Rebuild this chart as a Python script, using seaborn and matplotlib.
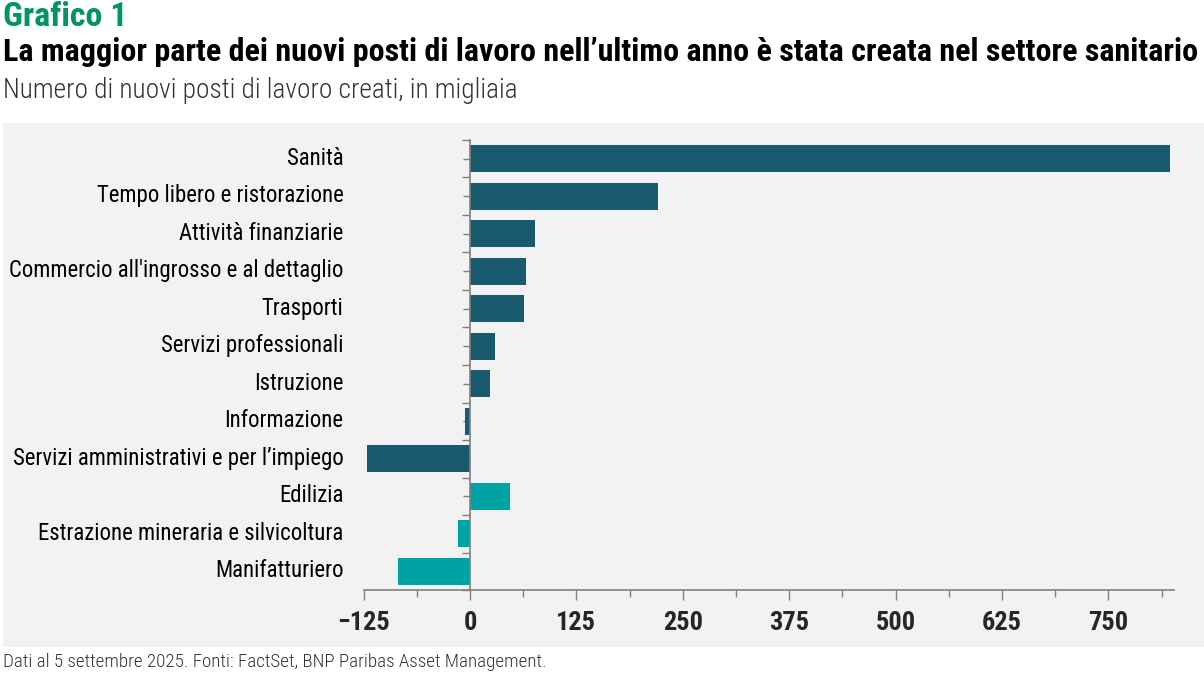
import numpy as np
import pandas as pd
import matplotlib
matplotlib.use("Agg")
import matplotlib.pyplot as plt
import matplotlib.transforms as mtransforms
from matplotlib.patches import Rectangle
from matplotlib.ticker import MultipleLocator, FixedLocator
import seaborn as sns

sectors = ["Sanità", "Tempo libero e ristorazione", "Attività finanziarie",
           "Commercio all'ingrosso e al dettaglio", "Trasporti",
           "Servizi professionali", "Istruzione", "Informazione",
           "Servizi amministrativi e per l\u2019impiego", "Edilizia",
           "Estrazione mineraria e silvicoltura", "Manifatturiero"]
jobs = [823, 221, 76, 65.5, 63, 29, 23, -6, -121.5, 46.7, -14.5, -85]
group = ["servizi"] * 9 + ["beni"] * 3

DARK = "#195a6f"
TEAL = "#00a3a4"
BG = "#f2f2f2"
GREEN = "#00965e"

sns.set_theme(style="white")
NARROW = ["Roboto Condensed", "Liberation Sans Narrow", "DejaVu Sans"]
plt.rcParams["font.family"] = NARROW

df = pd.DataFrame({"settore": sectors, "valore": jobs, "gruppo": group})

fig = plt.figure(figsize=(12.04, 6.73), dpi=100)
fig.patches.append(Rectangle((3 / 1204, 1 - 647 / 673), 1 - 3 / 1204, (647 - 123) / 673,
                             transform=fig.transFigure, facecolor=BG, edgecolor="none", zorder=-5))

ax = fig.add_axes([0.302, 0.1233, 0.673, 0.6687])
ax.set_zorder(2)
ax.set_facecolor("none")
sns.barplot(data=df, x="valore", y="settore", hue="gruppo",
            palette={"servizi": DARK, "beni": TEAL}, orient="h",
            width=0.71, dodge=False, legend=False, saturation=1,
            linewidth=0, edgecolor="none", ax=ax)

ax.set_xlim(-125, 827)
ax.set_ylim(11.5, -0.5)
ax.set_xlabel("")
ax.set_ylabel("")

for s in ["top", "right"]:
    ax.spines[s].set_visible(False)
ax.spines["left"].set_position(("data", 0))
for s in ["left", "bottom"]:
    ax.spines[s].set_color("#808080")
    ax.spines[s].set_linewidth(1.2)

ax.set_xticks(np.arange(-125, 800, 125))
ax.xaxis.set_minor_locator(MultipleLocator(62.5))
ax.tick_params(axis="x", which="major", length=7, width=1, color="#808080",
               labelsize=19, pad=8, direction="out", bottom=True)
ax.tick_params(axis="x", which="minor", length=5, width=1, color="#808080",
               direction="out", bottom=True)
for t in ax.get_xticklabels():
    t.set_fontweight("bold")

ax.yaxis.set_minor_locator(FixedLocator(np.arange(-0.5, 12, 1)))
ax.tick_params(axis="y", which="major", length=5, width=1, color="#808080",
               labelsize=16.4, pad=86, direction="out", left=True)
ax.tick_params(axis="y", which="minor", length=6, width=1, color="#808080",
               direction="out", left=True)
lift = mtransforms.ScaledTranslation(0, 2 / 72, fig.dpi_scale_trans)
for t in ax.get_yticklabels():
    t.set_color("black")
    t.set_transform(t.get_transform() + lift)

fig.text(3 / 1204, 1 - 17 / 673, "Grafico 1", color=GREEN, fontsize=24.5,
         fontweight="bold", va="center", ha="left")
fig.text(3 / 1204, 1 - 52 / 673,
         "La maggior parte dei nuovi posti di lavoro nell\u2019ultimo anno è stata creata nel settore sanitario",
         color="black", fontsize=23, fontweight="bold", va="center", ha="left")
fig.text(3 / 1204, 1 - 91 / 673, "Numero di nuovi posti di lavoro creati, in migliaia",
         color="#333333", fontsize=19.7, fontweight="light", va="center", ha="left")
fig.text(3 / 1204, 1 - 662 / 673,
         "Dati al 5 settembre 2025. Fonti: FactSet, BNP Paribas Asset Management.",
         color="#333333", fontsize=13.7, fontweight="light", va="center", ha="left")

fig.savefig("out.png", dpi=100)
